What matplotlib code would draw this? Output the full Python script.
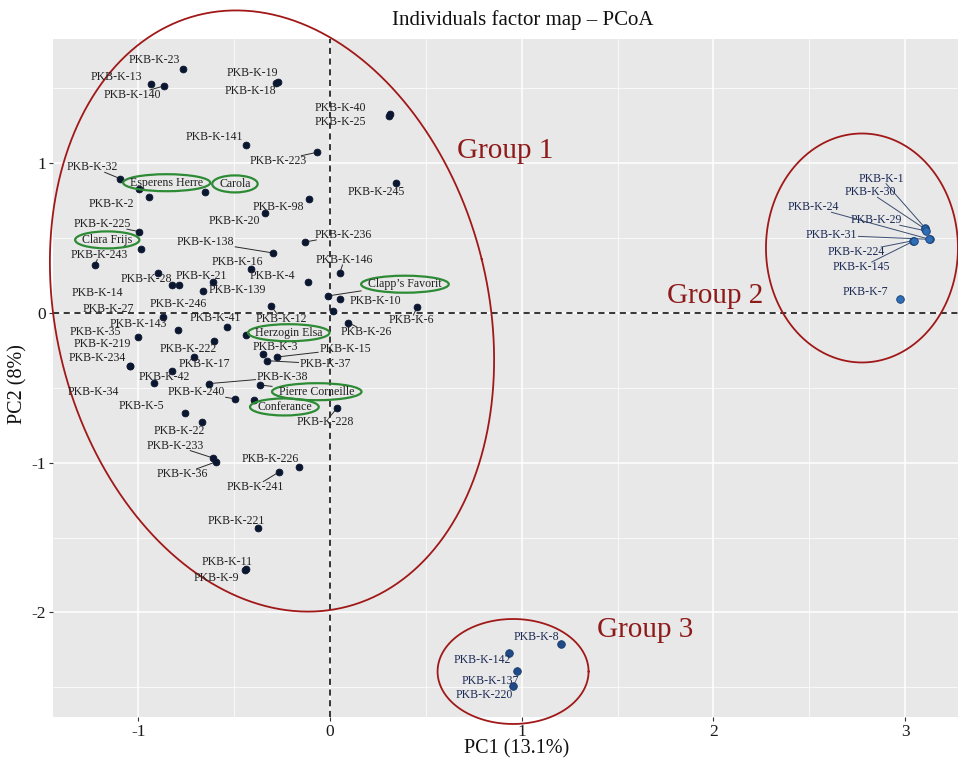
import numpy as np
import matplotlib
matplotlib.use("Agg")
import matplotlib.pyplot as plt
from matplotlib.patches import Ellipse

plt.rcParams['font.family'] = ['Liberation Serif', 'DejaVu Serif']

# PCoA scores, with the repelled label positions
names = ["PKB-K-23", "PKB-K-13", "PKB-K-140", "PKB-K-19", "PKB-K-18", "PKB-K-40", "PKB-K-25",
         "PKB-K-141", "PKB-K-223", "PKB-K-245", "PKB-K-32", "Esperens Herre", "Carola", "PKB-K-2",
         "PKB-K-98", "PKB-K-20", "PKB-K-225", "Clara Frijs", "PKB-K-243", "PKB-K-138", "PKB-K-236",
         "PKB-K-16", "PKB-K-146", "PKB-K-4", "PKB-K-28", "PKB-K-21", "PKB-K-14", "PKB-K-246",
         "PKB-K-27", "PKB-K-139", "PKB-K-12", "", "Clapp\u2019s Favorit", "PKB-K-10", "PKB-K-6",
         "PKB-K-143", "PKB-K-41", "PKB-K-26", "PKB-K-35", "Herzogin Elsa", "PKB-K-219", "PKB-K-234",
         "PKB-K-34", "PKB-K-42", "PKB-K-222", "PKB-K-3", "PKB-K-15", "PKB-K-37", "PKB-K-17",
         "PKB-K-38", "Pierre Corneille", "PKB-K-240", "Conferance", "PKB-K-5", "PKB-K-228",
         "PKB-K-22", "PKB-K-233", "PKB-K-36", "PKB-K-226", "PKB-K-241", "PKB-K-221", "PKB-K-11",
         "PKB-K-9",
         "PKB-K-1", "PKB-K-30", "PKB-K-24", "PKB-K-29", "PKB-K-31", "PKB-K-224", "PKB-K-145",
         "PKB-K-7",
         "PKB-K-8", "PKB-K-142", "PKB-K-137", "PKB-K-220"]
pc1 = [-0.765, -0.935, -0.868, -0.273, -0.282, 0.311, 0.308,
       -0.440, -0.068, 0.343, -1.095, -0.995, -0.650, -0.943,
       -0.111, -0.341, -0.995, -0.986, -1.226, -0.299, -0.129,
       -0.412, 0.052, -0.113, -0.896, -0.609, -0.826, -0.788,
       -0.870, -0.661, -0.308, 0.014, -0.009, 0.052, 0.455,
       -0.795, -0.539, 0.095, -1.000, -0.440, -1.043, -1.043,
       -0.917, -0.826, -0.604, -0.348, -0.275, -0.327, -0.708,
       -0.631, -0.365, -0.496, -0.396, -0.755, 0.038,
       -0.666, -0.610, -0.596, -0.163, -0.268, -0.376, -0.438,
       -0.443,
       3.104, 3.104, 3.128, 3.109, 3.125, 3.043, 3.046,
       2.973,
       1.203, 0.935, 0.974, 0.955]
pc2 = [1.628, 1.532, 1.516, 1.545, 1.536, 1.331, 1.316,
       1.122, 1.073, 0.866, 0.897, 0.830, 0.808, 0.775,
       0.762, 0.666, 0.543, 0.428, 0.321, 0.401, 0.474,
       0.292, 0.267, 0.207, 0.269, 0.205, 0.187, 0.187,
       -0.025, 0.149, 0.047, 0.013, 0.114, 0.094, 0.040,
       -0.114, -0.096, -0.065, -0.162, -0.145, -0.352, -0.352,
       -0.466, -0.385, -0.189, -0.274, -0.294, -0.319, -0.292,
       -0.472, -0.481, -0.574, -0.581, -0.670, -0.633,
       -0.728, -0.969, -0.995, -1.027, -1.064, -1.438, -1.710,
       -1.717,
       0.568, 0.561, 0.492, 0.548, 0.492, 0.483, 0.481,
       0.096,
       -2.211, -2.271, -2.393, -2.492]
lab_x = [-0.918, -1.113, -1.029, -0.407, -0.414, 0.052, 0.052,
         -0.604, -0.270, 0.240, -1.238, -0.852, -0.496, -1.142,
         -0.270, -0.501, -1.188, -1.162, -1.203, -0.650, 0.069,
         -0.481, 0.073, -0.301, -0.956, -0.669, -1.212, -0.794,
         -1.157, -0.481, -0.256, 0.0, 0.391, 0.235, 0.423,
         -1.000, -0.600, 0.191, -1.222, -0.215, -1.186, -1.212,
         -1.235, -0.866, -0.742, -0.283, 0.078, -0.025, -0.656,
         -0.249, -0.069, -0.695, -0.238, -0.982, -0.022,
         -0.786, -0.809, -0.768, -0.313, -0.391, -0.487, -0.536,
         -0.591,
         2.878, 2.817, 2.521, 2.852, 2.617, 2.744, 2.774,
         2.791,
         1.078, 0.797, 0.838, 0.803]
lab_y = [1.690, 1.578, 1.456, 1.603, 1.485, 1.371, 1.278,
         1.174, 1.017, 0.806, 0.973, 0.870, 0.862, 0.726,
         0.706, 0.617, 0.593, 0.488, 0.389, 0.474, 0.521,
         0.339, 0.354, 0.249, 0.227, 0.249, 0.132, 0.060,
         0.025, 0.154, -0.040, 0.0, 0.192, 0.082, -0.047,
         -0.073, -0.035, -0.125, -0.125, -0.132, -0.209, -0.301,
         -0.530, -0.426, -0.242, -0.227, -0.242, -0.341, -0.341,
         -0.430, -0.526, -0.530, -0.628, -0.621, -0.726,
         -0.786, -0.886, -1.075, -0.977, -1.160, -1.387, -1.661,
         -1.772,
         0.897, 0.806, 0.706, 0.619, 0.519, 0.407, 0.307,
         0.138,
         -2.166, -2.320, -2.456, -2.550]
group = [1] * 63 + [2] * 8 + [3] * 4

cultivars = ["Esperens Herre", "Carola", "Clara Frijs", "Clapp\u2019s Favorit",
             "Herzogin Elsa", "Pierre Corneille", "Conferance"]

# labels whose connector segment is visible in the picture
with_segment = ["PKB-K-138", "PKB-K-38", "PKB-K-240", "PKB-K-146", "Clapp\u2019s Favorit",
                "PKB-K-236", "PKB-K-37", "PKB-K-15", "PKB-K-3", "Pierre Corneille", "PKB-K-28",
                "PKB-K-243", "PKB-K-225", "PKB-K-233", "PKB-K-36", "PKB-K-241", "PKB-K-228",
                "PKB-K-6", "PKB-K-26", "PKB-K-139", "PKB-K-32", "PKB-K-223", "PKB-K-140",
                "PKB-K-12", "PKB-K-1", "PKB-K-30", "PKB-K-24", "PKB-K-29", "PKB-K-31",
                "PKB-K-224", "PKB-K-145"]

group_names = ["Group 1", "Group 2", "Group 3"]
group_text_x = [0.913, 2.008, 1.643]
group_text_y = [1.082, 0.114, -2.118]

pc1 = np.array(pc1)
pc2 = np.array(pc2)
group = np.array(group)

dot_col = {1: '#0b1730', 2: '#2f6db5', 3: '#1f4a87'}
dot_edge = {1: '#0b1730', 2: '#173e72', 3: '#173a6a'}
txt_col = {1: '#222222', 2: '#1c2a55', 3: '#1c2a55'}
red = '#a01818'

fig = plt.figure(figsize=(9.58, 7.61), dpi=100)
ax = fig.add_axes([53 / 958, 44 / 761, 905 / 958, 678 / 761])
ax.set_xlim(-1.445, 3.276)
ax.set_ylim(-2.699, 1.830)
ax.set_facecolor('#e8e8e8')
for s in ax.spines.values():
    s.set_visible(False)

ax.set_xticks([-1, 0, 1, 2, 3])
ax.set_xticklabels(['-1', '0', '1', '2', '3'])
ax.set_yticks([-2, -1, 0, 1])
ax.set_yticklabels(['-2', '-1', '0', '1'])
ax.set_xticks([-0.5, 0.5, 1.5, 2.5], minor=True)
ax.set_yticks([-2.5, -1.5, -0.5, 0.5, 1.5], minor=True)
ax.grid(which='major', color='white', lw=1.1)
ax.grid(which='minor', color='white', lw=0.5)
ax.set_axisbelow(True)
ax.tick_params(which='minor', length=0)
ax.tick_params(which='major', length=3, width=0.8, color='#333333',
               labelsize=12.5, pad=2, labelcolor='#1a1a1a')

ax.axhline(0, color='black', lw=1.1, ls=(0, (4, 3)), zorder=2)
ax.axvline(0, color='black', lw=1.1, ls=(0, (4, 3)), zorder=2)

for g in [1, 2, 3]:
    m = group == g
    ax.scatter(pc1[m], pc2[m], s=24 if g == 1 else 30, color=dot_col[g],
               edgecolor=dot_edge[g], linewidth=0.6, zorder=4)

# labels
texts = []
for i, nm in enumerate(names):
    if nm == "":
        continue
    t = ax.text(lab_x[i], lab_y[i], nm, ha='center', va='center', fontsize=8.6,
                color=txt_col[group[i]], zorder=7)
    texts.append((i, t))

fig.canvas.draw()
rend = fig.canvas.get_renderer()
sx = ax.bbox.width / (3.276 + 1.445)
sy = ax.bbox.height / (1.830 + 2.699)
inv = ax.transData.inverted()

# leader segments from label box edge to the point
for i, t in texts:
    if names[i] not in with_segment:
        continue
    bb = t.get_window_extent(renderer=rend)
    cx, cy = bb.x0 + bb.width / 2, bb.y0 + bb.height / 2
    if names[i] in cultivars:
        hw, hh = bb.width / 2 + 7, 8.5
    else:
        hw, hh = bb.width / 2 + 1, bb.height / 2 - 1
    px, py = ax.transData.transform((pc1[i], pc2[i]))
    dx, dy = px - cx, py - cy
    tx = hw / abs(dx) if dx != 0 else np.inf
    ty = hh / abs(dy) if dy != 0 else np.inf
    tt = min(tx, ty)
    if tt >= 1:
        continue
    ex, ey = cx + dx * tt, cy + dy * tt
    if np.hypot(px - ex, py - ey) < 5:
        continue
    (x0, y0), (x1, y1) = inv.transform([(ex, ey), (px, py)])
    ax.plot([x0, x1], [y0, y1], color='#2a2a2a' if group[i] == 1 else '#3a4d70',
            lw=0.7, zorder=3)

# green rings around the reference cultivars
for i, t in texts:
    if names[i] in cultivars:
        bb = t.get_window_extent(renderer=rend)
        w = (bb.width + 14) / sx
        h = 17 / sy
        ax.add_patch(Ellipse((lab_x[i], lab_y[i]), w, h, fill=False,
                             edgecolor='#2e8b35', lw=1.6, zorder=6))


def group_ring(cx, cy, a_px, b_px, ang):
    tt = np.linspace(0, 2 * np.pi, 400)
    u, v = a_px * np.cos(tt), b_px * np.sin(tt)
    r = np.deg2rad(ang)
    X = u * np.cos(r) - v * np.sin(r)
    Y = u * np.sin(r) + v * np.cos(r)
    ax.plot(cx + X / sx, cy + Y / sy, color=red, lw=1.3, clip_on=False, zorder=5)


group_ring(-0.3026, 0.013, 216, 305, 13.9)
group_ring(2.775, 0.434, 96, 114.5, 0)
group_ring(0.955, -2.395, 75.5, 52.5, 0)

for nm, gx, gy in zip(group_names, group_text_x, group_text_y):
    ax.text(gx, gy, nm, ha='center', va='center', fontsize=21, color='#8e1a1a', zorder=7)

fig.text(523 / 958, 1 - 20 / 761, "Individuals factor map \u2013 PCoA", ha='center',
         va='center', fontsize=15, color='#111111')
fig.text(517 / 958, 1 - 749 / 761, "PC1 (13.1%)", ha='center', va='center',
         fontsize=14.5, color='#111111')
fig.text(18 / 958, 1 - 384 / 761, "PC2 (8%)", ha='center', va='center',
         rotation=90, fontsize=14.5, color='#111111')

fig.savefig("out.png", dpi=100)
